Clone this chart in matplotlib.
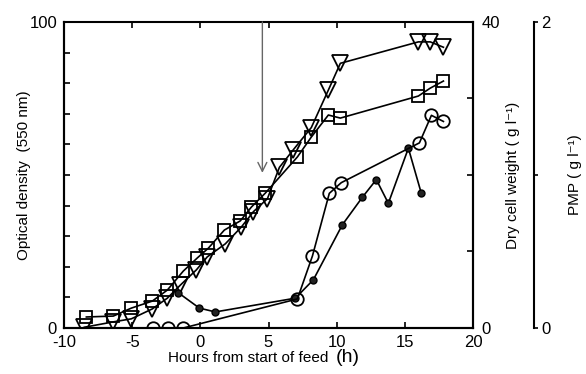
import matplotlib
matplotlib.use("Agg")
import matplotlib.pyplot as plt

plt.rcParams['font.family'] = ['Liberation Sans', 'DejaVu Sans']

# Optical density (squares), left axis
od_t = [-8.36, -6.38, -5.06, -3.52, -2.42, -1.25, -0.22, 0.59, 1.76, 2.93, 3.74, 4.77,
        7.12, 8.14, 9.39, 10.27, 15.99, 16.87, 17.83]
od_v = [3.6, 3.9, 6.5, 8.8, 12.4, 18.6, 22.9, 26.1, 32.0, 35.0, 39.5, 44.1,
        55.9, 62.4, 69.6, 68.6, 75.8, 78.4, 80.7]

# Dry cell weight (triangles), right axis 0-40
dcw_t = [-8.51, -6.38, -5.06, -3.52, -2.42, -1.47, -0.29, 0.51, 1.83, 3.01, 3.89, 4.92,
         5.80, 6.82, 8.14, 9.39, 10.27, 15.99, 16.87, 17.83]
dcw_v = [0.1, 0.8, 1.2, 2.5, 3.9, 5.6, 7.6, 9.3, 11.0, 13.2, 15.2, 16.9,
         21.0, 23.3, 26.2, 31.1, 34.6, 37.4, 37.4, 36.7]

# PMP (open circles), third axis 0-2
pmp_t = [-3.45, -2.35, -1.25, 7.12, 8.22, 9.46, 10.34, 16.07, 16.95, 17.83]
pmp_v = [0.0, 0.0, 0.0, 0.19, 0.47, 0.88, 0.95, 1.21, 1.39, 1.35]

# Second series (filled circles), on dry cell weight axis
fc_t = [-1.61, -0.07, 1.10, 6.97, 8.29, 10.42, 11.89, 12.91, 13.79, 15.26, 16.21]
fc_v = [4.6, 2.6, 2.1, 3.9, 6.3, 13.5, 17.1, 19.4, 16.3, 23.5, 17.6]

x_ticks = [-10, -5, 0, 5, 10, 15, 20]
arrow_t = 4.55

fig = plt.figure(figsize=(5.86, 3.74), dpi=100)
ax = fig.add_axes([64/586, 1-328/374, 409/586, 306/374])
ax2 = ax.twinx()
ax3 = ax.twinx()

lw = 1.2
ax.plot(od_t, od_v, color='black', lw=lw, marker='s', ms=9, mfc='none', mec='black', mew=1.3, zorder=3)
ax2.plot(dcw_t, dcw_v, color='black', lw=lw, marker='v', ms=11.5, mfc='none', mec='black', mew=1.3, zorder=3)
ax2.plot(fc_t, fc_v, color='black', lw=lw, marker='o', ms=5, mfc='#222222', mec='black', mew=1.0, zorder=3)
ax3.plot(pmp_t, pmp_v, color='black', lw=lw, marker='o', ms=9, mfc='none', mec='black', mew=1.3, zorder=3)

ax.set_xlim(-10, 20)
ax.set_ylim(0, 100)
ax2.set_ylim(0, 40)
ax3.set_ylim(0, 2)

ax.annotate('', xy=(arrow_t, 50.7), xytext=(arrow_t, 100),
            arrowprops=dict(arrowstyle='->', color='#666666', lw=1.0,
                            mutation_scale=16, shrinkA=0, shrinkB=0))

for a in (ax, ax2, ax3):
    for s in a.spines.values():
        s.set_linewidth(1.5)

ax.set_xticks(x_ticks)
ax.set_xticklabels([str(t) for t in x_ticks])
ax.tick_params(axis='x', direction='in', top=True, length=4, width=1.2, labelsize=12, pad=5)
ax.set_yticks(range(0, 101, 10))
ax.set_yticklabels(['0'] + ['']*9 + ['100'])
ax.tick_params(axis='y', direction='in', length=4, width=1.2, labelsize=12, pad=5)

ax2.set_yticks([0, 10, 20, 30, 40])
ax2.set_yticklabels(['0', '', '', '', '40'])
ax2.tick_params(axis='y', direction='in', length=4, width=1.2, labelsize=12, pad=6)

ax3.spines['right'].set_position(('axes', (534-64)/409))
for s in ('top', 'bottom', 'left'):
    ax3.spines[s].set_visible(False)
ax2.spines['top'].set_visible(False)
ax3.set_yticks([0, 1, 2])
ax3.set_yticklabels(['0', '', '2'])
ax3.tick_params(axis='y', direction='out', length=3, width=1.2, labelsize=12, pad=2)

ax.set_xlabel('Hours from start of feed', fontsize=11)
ax.xaxis.set_label_coords((248-64)/409, -0.075)
fig.text(336/586, 1-362/374, '(h)', fontsize=14, ha='left', va='baseline')
ax.set_ylabel('Optical density  (550 nm)', fontsize=11)
ax.yaxis.set_label_coords((31-64)/409, 0.5)
ax2.set_ylabel('Dry cell weight ( g l\u207b\u00b9)', fontsize=11)
ax2.yaxis.set_label_coords((506-64)/409, 0.5)
ax3.set_ylabel('PMP ( g l\u207b\u00b9)', fontsize=11)
ax3.yaxis.set_label_coords((568-64)/409, 0.5)

fig.savefig('out.png', dpi=100)
